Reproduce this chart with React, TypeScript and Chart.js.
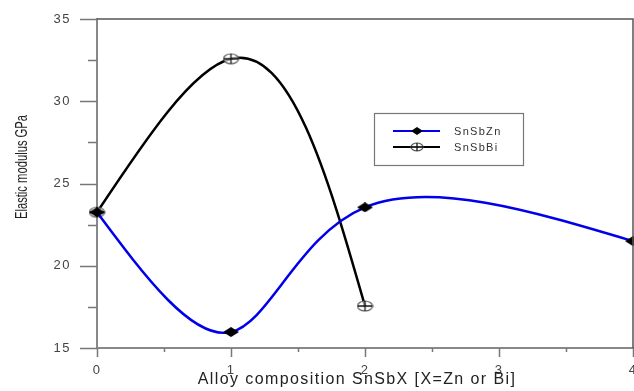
import React, { useEffect, useRef } from 'react';
import { Chart, registerables } from 'chart.js';

Chart.register(...registerables);

// ---- data ----
const xZn = [0, 1, 2, 4];
const snSbZn = [23.25, 15.97, 23.55, 21.5];
const xBi = [0, 1, 2];
const snSbBi = [23.25, 32.58, 17.55];
const seriesLabels = ['SnSbZn', 'SnSbBi'];
const xMajorTicks = [0, 1, 2, 3, 4];
const xMinorTicks = [0.5, 1.5, 2.5, 3.5];
const yMajorTicks = [15, 20, 25, 30, 35];
const yMinorTicks = [17.5, 22.5, 27.5, 32.5];
const xTitle = 'Alloy composition SnSbX [X=Zn or Bi]';
const yTitle = 'Elastic modulus GPa';

const FONT = '"Liberation Sans", Arial, sans-serif';
const CHORD_Y_WEIGHT = 2;

function makeDiamond(w: number, h: number) {
  const c = document.createElement('canvas');
  c.width = w;
  c.height = h;
  const g = c.getContext('2d')!;
  g.fillStyle = '#000';
  g.beginPath();
  g.moveTo(w / 2, 0);
  g.lineTo(w, h / 2);
  g.lineTo(w / 2, h);
  g.lineTo(0, h / 2);
  g.closePath();
  g.fill();
  return c;
}

function makeCirclePlus(w: number, h: number) {
  const c = document.createElement('canvas');
  c.width = w + 2;
  c.height = h + 2;
  const g = c.getContext('2d')!;
  const cx = (w + 2) / 2;
  const cy = (h + 2) / 2;
  g.fillStyle = 'rgba(255,255,255,0.6)';
  g.strokeStyle = '#555';
  g.lineWidth = 1.2;
  g.beginPath();
  g.ellipse(cx, cy, w / 2, h / 2, 0, 0, Math.PI * 2);
  g.fill();
  g.stroke();
  g.strokeStyle = '#111';
  g.lineWidth = 1.3;
  g.beginPath();
  g.moveTo(cx, 1);
  g.lineTo(cx, h + 1);
  g.moveTo(1, cy);
  g.lineTo(w + 1, cy);
  g.stroke();
  return c;
}

// natural parametric cubic spline (chord-length), sets Bezier control points on Chart.js point elements
function applyNaturalSpline(pts: any[]) {
  const n = pts.length;
  if (n < 3) return;
  const h: number[] = [];
  for (let i = 0; i < n - 1; i++) {
    h.push(Math.hypot(pts[i + 1].x - pts[i].x, CHORD_Y_WEIGHT * (pts[i + 1].y - pts[i].y)) || 1);
  }
  const solve = (vals: number[]) => {
    const d: number[] = [];
    for (let i = 0; i < n - 1; i++) d.push((vals[i + 1] - vals[i]) / h[i]);
    const a = new Array(n).fill(0);
    const b = new Array(n).fill(0);
    const c = new Array(n).fill(0);
    const r = new Array(n).fill(0);
    b[0] = 2; c[0] = 1; r[0] = 3 * d[0];
    for (let i = 1; i < n - 1; i++) {
      a[i] = h[i];
      b[i] = 2 * (h[i - 1] + h[i]);
      c[i] = h[i - 1];
      r[i] = 3 * (h[i] * d[i - 1] + h[i - 1] * d[i]);
    }
    a[n - 1] = 1; b[n - 1] = 2; r[n - 1] = 3 * d[n - 2];
    const cp = new Array(n).fill(0);
    const rp = new Array(n).fill(0);
    cp[0] = c[0] / b[0];
    rp[0] = r[0] / b[0];
    for (let i = 1; i < n; i++) {
      const m = b[i] - a[i] * cp[i - 1];
      cp[i] = c[i] / m;
      rp[i] = (r[i] - a[i] * rp[i - 1]) / m;
    }
    const t = new Array(n).fill(0);
    t[n - 1] = rp[n - 1];
    for (let i = n - 2; i >= 0; i--) t[i] = rp[i] - cp[i] * t[i + 1];
    return t;
  };
  const tx = solve(pts.map((p) => p.x));
  const ty = solve(pts.map((p) => p.y));
  for (let i = 0; i < n; i++) {
    const p = pts[i];
    const hPrev = i > 0 ? h[i - 1] : 0;
    const hNext = i < n - 1 ? h[i] : 0;
    p.cp1x = p.x - (tx[i] * hPrev) / 3;
    p.cp1y = p.y - (ty[i] * hPrev) / 3;
    p.cp2x = p.x + (tx[i] * hNext) / 3;
    p.cp2y = p.y + (ty[i] * hNext) / 3;
  }
}

export default function App() {
  const ref = useRef<HTMLCanvasElement | null>(null);

  useEffect(() => {
    const canvas = ref.current!;
    const diamond = makeDiamond(16, 10);
    const circlePlus = makeCirclePlus(15, 10);
    const diamondSmall = makeDiamond(12, 8);
    const circlePlusSmall = makeCirclePlus(12, 8);

    const splinePlugin = {
      id: 'naturalSpline',
      beforeDatasetsDraw(chart: any) {
        chart.data.datasets.forEach((_: any, i: number) => {
          const meta = chart.getDatasetMeta(i);
          const line = meta.dataset;
          if (!line) return;
          applyNaturalSpline(meta.data);
          line._pointsUpdated = true;
          line._path = undefined;
        });
      },
    };

    const decor = {
      id: 'decor',
      beforeDraw(chart: any) {
        chart.ctx.letterSpacing = '1.5px';
      },
      afterDraw(chart: any) {
        const ctx = chart.ctx as CanvasRenderingContext2D;
        const a = chart.chartArea;
        const xs = chart.scales.x;
        const ys = chart.scales.y;
        ctx.save();
        (ctx as any).letterSpacing = '0px';
        // top & right frame
        ctx.strokeStyle = '#555';
        ctx.lineWidth = 1.5;
        ctx.beginPath();
        ctx.moveTo(a.left, a.top);
        ctx.lineTo(a.right, a.top);
        ctx.lineTo(a.right, a.bottom);
        ctx.stroke();
        // tick marks
        ctx.strokeStyle = '#777';
        ctx.lineWidth = 1.5;
        ctx.beginPath();
        for (const v of yMajorTicks) {
          const y = Math.round(ys.getPixelForValue(v)) + 0.5;
          ctx.moveTo(a.left - 17, y);
          ctx.lineTo(a.left, y);
        }
        for (const v of yMinorTicks) {
          const y = Math.round(ys.getPixelForValue(v)) + 0.5;
          ctx.moveTo(a.left - 9, y);
          ctx.lineTo(a.left, y);
        }
        for (const v of xMajorTicks) {
          const x = Math.round(xs.getPixelForValue(v)) + 0.5;
          ctx.moveTo(x, a.bottom);
          ctx.lineTo(x, a.bottom + 9);
        }
        for (const v of xMinorTicks) {
          const x = Math.round(xs.getPixelForValue(v)) + 0.5;
          ctx.moveTo(x, a.bottom);
          ctx.lineTo(x, a.bottom + 4);
        }
        ctx.stroke();

        // x title
        ctx.fillStyle = '#222';
        ctx.font = `16px ${FONT}`;
        (ctx as any).letterSpacing = '1.4px';
        ctx.textAlign = 'center';
        ctx.textBaseline = 'middle';
        ctx.fillText(xTitle, 357, 380);

        // y title (condensed)
        (ctx as any).letterSpacing = '0px';
        ctx.save();
        ctx.translate(22, 167);
        ctx.rotate(-Math.PI / 2);
        ctx.scale(0.66, 1);
        ctx.font = `17px ${FONT}`;
        ctx.fillText(yTitle, 0, 0);
        ctx.restore();

        // legend
        const lx = 374, ly = 113, lw = 149, lh = 52;
        ctx.strokeStyle = '#777';
        ctx.lineWidth = 1.2;
        ctx.strokeRect(lx + 0.5, ly + 0.5, lw, lh);
        const rows = [
          { y: 131, color: 'rgb(0,0,235)', img: diamondSmall },
          { y: 147, color: '#000', img: circlePlusSmall },
        ];
        rows.forEach((r, i) => {
          ctx.strokeStyle = r.color;
          ctx.lineWidth = 2.2;
          ctx.beginPath();
          ctx.moveTo(393, r.y);
          ctx.lineTo(440, r.y);
          ctx.stroke();
          ctx.drawImage(r.img, 417 - r.img.width / 2, r.y - r.img.height / 2);
          ctx.fillStyle = '#333';
          ctx.font = `11px ${FONT}`;
          (ctx as any).letterSpacing = '1.3px';
          ctx.textAlign = 'left';
          ctx.textBaseline = 'middle';
          ctx.fillText(seriesLabels[i], 454, r.y + 1);
        });
        ctx.restore();
        (ctx as any).letterSpacing = '0px';
      },
    };

    const chart = new Chart(canvas, {
      type: 'line',
      data: {
        datasets: [
          {
            label: seriesLabels[0],
            data: xZn.map((x, i) => ({ x, y: snSbZn[i] })),
            borderColor: 'rgb(0,0,235)',
            backgroundColor: 'rgb(0,0,235)',
            borderWidth: 2.5,
            tension: 0.4,
            pointStyle: diamond as any,
            pointRadius: 6,
            clip: false as any,
          },
          {
            label: seriesLabels[1],
            data: xBi.map((x, i) => ({ x, y: snSbBi[i] })),
            borderColor: '#000',
            backgroundColor: '#000',
            borderWidth: 2.5,
            tension: 0.4,
            pointStyle: circlePlus as any,
            pointRadius: 6,
            clip: false as any,
          },
        ],
      },
      options: {
        responsive: false,
        animation: false,
        layout: { autoPadding: false, padding: { top: 19, right: 1, left: 0, bottom: 0 } },
        plugins: {
          legend: { display: false },
          tooltip: { enabled: false },
        },
        scales: {
          x: {
            type: 'linear',
            min: 0,
            max: 4,
            afterFit: (s: any) => {
              s.height = 43;
              s.paddingLeft = 0;
              s.paddingRight = 0;
            },
            grid: { display: false, drawTicks: true, tickLength: 10 },
            border: { display: true, color: '#888', width: 2 },
            ticks: {
              stepSize: 1,
              padding: 5,
              color: '#444',
              font: { family: FONT, size: 13 },
              callback: (v: any) => String(v),
            },
          },
          y: {
            type: 'linear',
            min: 15,
            max: 35,
            afterFit: (s: any) => {
              s.width = 97;
              s.paddingTop = 0;
              s.paddingBottom = 0;
            },
            grid: { display: false, drawTicks: true, tickLength: 17 },
            border: { display: true, color: '#888', width: 2 },
            ticks: {
              stepSize: 5,
              padding: 9,
              color: '#444',
              font: { family: FONT, size: 13 },
              callback: (v: any) => String(v),
            },
          },
        },
      },
      plugins: [splinePlugin, decor],
    } as any);

    return () => chart.destroy();
  }, []);

  return (
    <div style={{ position: 'fixed', left: 0, top: 0, width: 634, height: 391, background: '#fff' }}>
      <canvas ref={ref} width={634} height={391} style={{ display: 'block' }} />
    </div>
  );
}
